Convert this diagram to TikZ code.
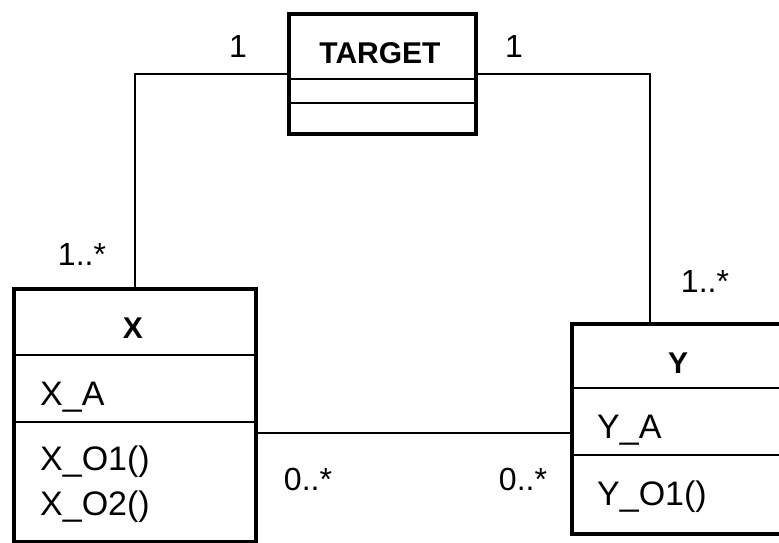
\documentclass[tikz,border=0pt]{standalone}
\usepackage{fontspec}
\setmainfont{Liberation Sans}
\begin{document}
\begin{tikzpicture}[x=1pt, y=-1pt]
    \tikzstyle{classbox}=[draw, line width=4pt, inner sep=0pt, anchor=north west]
    \tikzstyle{sep}=[line width=2pt]
    \tikzstyle{title}=[inner sep=0pt, anchor=base, font=\fontsize{30}{36}\selectfont\bfseries]
    \tikzstyle{member}=[inner sep=0pt, anchor=base west, font=\fontsize{34}{40}\selectfont]
    \tikzstyle{mult}=[inner sep=0pt, anchor=base, font=\fontsize{32}{38}\selectfont]
    \useasboundingbox[fill=white] (0,0) rectangle (779,542);
    \clip (0,0) rectangle (779,542);

    \node[classbox, minimum width=187pt, minimum height=120pt] (TARGET) at (287,12) {};
    \node[classbox, minimum width=242pt, minimum height=253pt] (X) at (12,287) {};
    \node[classbox, minimum width=216pt, minimum height=210pt] (Y) at (570,322) {};

    \draw[sep] (TARGET.west |- 0,79) -- (TARGET.east |- 0,79);
    \draw[sep] (TARGET.west |- 0,103) -- (TARGET.east |- 0,103);
    \draw[sep] (X.west |- 0,355) -- (X.east |- 0,355);
    \draw[sep] (X.west |- 0,422) -- (X.east |- 0,422);
    \draw[sep] (Y.west |- 0,388) -- (Y.east |- 0,388);
    \draw[sep] (Y.west |- 0,455) -- (Y.east |- 0,455);

    \node[title] (TARGET_name) at (380,63) {TARGET};
    \node[title] (X_name) at (133,338) {X};
    \node[title] (Y_name) at (678,373) {Y};

    \node[member] (X_A) at (40,405) {X\_A};
    \node[member] (X_O1) at (40,470) {X\_O1()};
    \node[member] (X_O2) at (40,515) {X\_O2()};
    \node[member] (Y_A) at (597,438) {Y\_A};
    \node[member] (Y_O1) at (597,505) {Y\_O1()};

    \draw[sep] (TARGET.west) -| (X.north);
    \draw[sep] (TARGET.east) -| ([xshift=-30pt]Y.north);
    \draw[sep] (X.east |- 0,433) -- (Y.west |- 0,433);

    \node[mult] (m_tx) at (238,57) {1};
    \node[mult] (m_ty) at (514,57) {1};
    \node[mult] (m_xt) at (82,265) {1..*};
    \node[mult] (m_yt) at (705,292) {1..*};
    \node[mult] (m_xy) at (308,490) {0..*};
    \node[mult] (m_yx) at (523,490) {0..*};
\end{tikzpicture}
\end{document}
